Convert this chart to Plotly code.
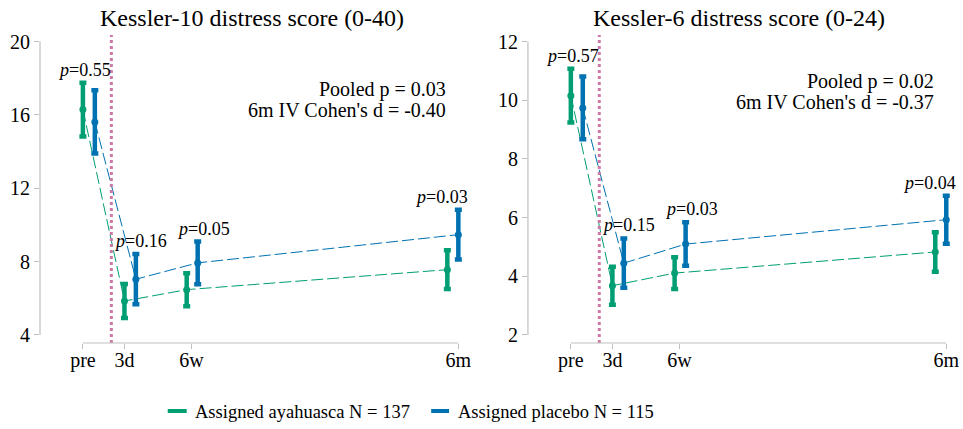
import plotly.graph_objects as go

# ---------------- data ----------------
timepoints = ["pre", "3d", "6w", "6m"]
time_ticks = [0, 3.1, 8.1, 28]
time_ayahuasca = [0, 3.1, 7.74, 27.18]
time_placebo = [0.89, 3.95, 8.56, 28.0]
intervention_time = 2.12

k10_aya_mean = [16.29, 5.85, 6.47, 7.56]
k10_aya_ci = [1.47, 0.93, 0.90, 1.06]
k10_pla_mean = [15.62, 7.04, 7.93, 9.47]
k10_pla_ci = [1.72, 1.37, 1.16, 1.36]
k10_p = ["0.55", "0.16", "0.05", "0.03"]
k10_pooled = ["Pooled p = 0.03", "6m IV Cohen's d = -0.40"]

k6_aya_mean = [10.16, 3.68, 4.11, 4.83]
k6_aya_ci = [0.92, 0.65, 0.54, 0.67]
k6_pla_mean = [9.74, 4.45, 5.10, 5.93]
k6_pla_ci = [1.07, 0.84, 0.74, 0.82]
k6_p = ["0.57", "0.15", "0.03", "0.04"]
k6_pooled = ["Pooled p = 0.02", "6m IV Cohen's d = -0.37"]

titles = ["Kessler-10 distress score (0-40)", "Kessler-6 distress score (0-24)"]
group_names = ["Assigned ayahuasca N = 137", "Assigned placebo N = 115"]
k10_yticks = [4, 8, 12, 16, 20]
k6_yticks = [2, 4, 6, 8, 10, 12]

# ---------------- style ----------------
GREEN = "#009E73"
BLUE = "#0072B2"
PINK = "#CC79A7"
AXIS = "#BFBFBF"
FONT = "Liberation Serif"
p_label_xshift = [2, 16, 12, -17]

panels = [
    dict(xa="x", ya="y", dom=[0, 0.4679], yr=[3.56, 20.36], yticks=k10_yticks,
         aya=(k10_aya_mean, k10_aya_ci), pla=(k10_pla_mean, k10_pla_ci),
         p=k10_p, pooled=k10_pooled, pooled_y=[0.822, 0.757], title=titles[0]),
    dict(xa="x2", ya="y2", dom=[0.5321, 1], yr=[1.727, 12.227], yticks=k6_yticks,
         aya=(k6_aya_mean, k6_aya_ci), pla=(k6_pla_mean, k6_pla_ci),
         p=k6_p, pooled=k6_pooled, pooled_y=[0.848, 0.783], title=titles[1]),
]

fig = go.Figure()
shapes = []
annotations = []

for pn in panels:
    for (mean, ci), xs, col in [(pn["aya"], time_ayahuasca, GREEN), (pn["pla"], time_placebo, BLUE)]:
        fig.add_trace(go.Scatter(
            x=xs, y=mean, xaxis=pn["xa"], yaxis=pn["ya"],
            mode="lines+markers",
            line=dict(color=col, width=1, dash="12px,4px"),
            marker=dict(color=col, size=7),
            error_y=dict(type="data", array=ci, color=col, thickness=4.5, width=3.5),
            showlegend=False, hoverinfo="skip",
        ))
    # intervention line
    shapes.append(dict(type="line", xref=pn["xa"], yref="paper",
                       x0=intervention_time, x1=intervention_time, y0=0, y1=1,
                       line=dict(color=PINK, width=3, dash="dot")))
    # y axis spine
    shapes.append(dict(type="line", xref="paper", yref=pn["ya"],
                       x0=pn["dom"][0], x1=pn["dom"][0],
                       y0=pn["yticks"][0], y1=pn["yticks"][-1],
                       line=dict(color=AXIS, width=1.2)))
    # x axis spine
    shapes.append(dict(type="line", xref=pn["xa"], yref="paper",
                       x0=time_ticks[0], x1=time_ticks[-1], y0=0, y1=0,
                       line=dict(color=AXIS, width=1.2)))
    # p labels
    am, ac = pn["aya"]
    pm, pc = pn["pla"]
    for i in range(len(timepoints)):
        top = max(am[i] + ac[i], pm[i] + pc[i])
        annotations.append(dict(
            xref=pn["xa"], yref=pn["ya"], x=time_ticks[i], y=top,
            text="<i>p</i>=" + pn["p"][i], showarrow=False,
            xanchor="center", yanchor="middle", xshift=p_label_xshift[i], yshift=13,
            font=dict(family=FONT, size=18, color="black")))
    # pooled text
    xref_dom = pn["xa"] + " domain"
    for line_txt, yy in zip(pn["pooled"], pn["pooled_y"]):
        annotations.append(dict(
            xref=xref_dom, yref="paper", x=1, y=yy, text=line_txt, showarrow=False,
            xanchor="right", yanchor="middle", xshift=-21,
            font=dict(family=FONT, size=20, color="black")))
    # title
    annotations.append(dict(
        xref=xref_dom, yref="paper", x=0.5, y=1.0552, text=pn["title"], showarrow=False,
        xanchor="center", yanchor="middle", xshift=-3,
        font=dict(family=FONT, size=24, color="black")))

# manual legend
legend_items = [(GREEN, group_names[0], 0.1393, 0.160, 0.1665),
                (BLUE, group_names[1], 0.4266, 0.4461, 0.4537)]
for col, name, s0, s1, tx in legend_items:
    shapes.append(dict(type="line", xref="paper", yref="paper", x0=s0, x1=s1,
                       y0=-0.2208, y1=-0.2208, line=dict(color=col, width=4)))
    annotations.append(dict(xref="paper", yref="paper", x=tx, y=-0.225, text=name,
                            showarrow=False, xanchor="left", yanchor="middle",
                            font=dict(family=FONT, size=18.5, color="black")))

axis_common = dict(showgrid=False, zeroline=False, showline=False, ticks="outside",
                   ticklen=5, tickwidth=1.2, tickcolor=AXIS,
                   tickfont=dict(family=FONT, size=20, color="black"))

fig.update_layout(
    width=963, height=429,
    margin=dict(l=40, r=4, t=35, b=86),
    plot_bgcolor="white", paper_bgcolor="white",
    showlegend=False,
    font=dict(family=FONT, color="black"),
    shapes=shapes, annotations=annotations,
    xaxis=dict(domain=panels[0]["dom"], range=[-3.2, 28.8], tickvals=time_ticks,
               ticktext=timepoints, anchor="y", ticklabelstandoff=-6, **axis_common),
    xaxis2=dict(domain=panels[1]["dom"], range=[-3.2, 28.8], tickvals=time_ticks,
                ticktext=timepoints, anchor="y2", ticklabelstandoff=-6, **axis_common),
    yaxis=dict(domain=[0, 1], range=panels[0]["yr"], tickvals=k10_yticks, anchor="x",
               **axis_common),
    yaxis2=dict(domain=[0, 1], range=panels[1]["yr"], tickvals=k6_yticks, anchor="x2",
                **axis_common),
)

fig.write_html("out.html")
